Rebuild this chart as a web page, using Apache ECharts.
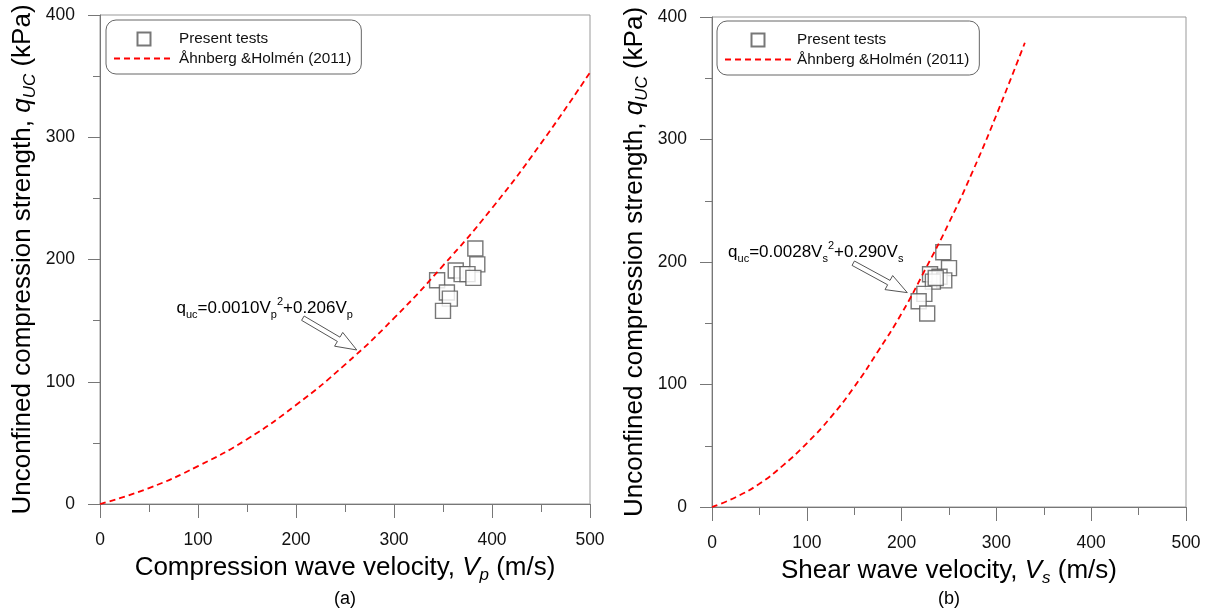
<!DOCTYPE html>
<html><head><meta charset="utf-8">
<script src="https://cdn.jsdelivr.net/npm/echarts@6/dist/echarts.min.js"></script>
<style>html,body{margin:0;padding:0;background:#fff}#c{width:1229px;height:613px}</style>
</head><body><div id="c"></div>
<script>
const FONT = '"Liberation Sans", Arial, sans-serif';
// ---- Panel (a): compression wave velocity ----
const vpTests  = [383, 385, 363, 369, 375, 381, 344, 354, 357, 350];
const quTestsA = [209, 196, 191, 188, 188, 185, 183, 173, 168, 158];
const vpLine   = [0, 50, 100, 150, 200, 250, 300, 350, 400, 450, 500];
const quLineA  = [0, 13, 31, 53, 81, 114, 152, 195, 242, 295, 353];
// ---- Panel (b): shear wave velocity ----
const vsTests  = [244, 250, 230, 240, 245, 233, 236, 224, 218, 227];
const quTestsB = [208, 195, 190, 188, 185, 184, 187, 174, 168, 158];
const vsLine   = [0, 25, 50, 75, 100, 125, 150, 175, 200, 225, 250, 275, 300, 330];
const quLineB  = [0, 8, 19, 34, 52, 73, 98, 127, 158, 194, 232, 274, 320, 379];
// ---- annotations (data coordinates) ----
const arrowA = [207, 152, 262, 126];   // tail V, tail q, tip V, tip q
const arrowB = [149, 199, 206, 175];
const labelA = [78, 160];
const labelB = [17, 208];
const seriesNames = ['Present tests', 'Åhnberg &Holmén (2011)'];

const zip = (a, b) => a.map((v, i) => [v, b[i]]);
const GREY = '#777';

function axisRich() {
  return {
    t: { fontSize: 26, fontFamily: FONT, color: '#000', lineHeight: 33 },
    i: { fontSize: 26, fontFamily: FONT, fontStyle: 'italic', color: '#000', lineHeight: 33 },
    s: { fontSize: 17, fontFamily: FONT, fontStyle: 'italic', color: '#000', lineHeight: 33, verticalAlign: 'bottom' }
  };
}
function xAxis(gi, name) {
  return {
    type: 'value', gridIndex: gi, min: 0, max: 500, interval: 100,
    name: name, nameLocation: 'middle', nameGap: 47,
    nameTextStyle: { rich: axisRich() },
    axisLine: { show: true, onZero: false, lineStyle: { color: GREY, width: 1 } },
    axisTick: { show: true, inside: false, length: 14, lineStyle: { color: GREY } },
    minorTick: { show: true, splitNumber: 2, length: 8, lineStyle: { color: GREY } },
    axisLabel: { margin: 27, fontSize: 17.5, color: '#111', fontFamily: FONT },
    splitLine: { show: false }, minorSplitLine: { show: false }
  };
}
function yAxis(gi, name) {
  return {
    type: 'value', gridIndex: gi, min: 0, max: 400, interval: 100,
    name: name, nameLocation: 'middle', nameGap: 61, nameRotate: 90,
    nameTextStyle: { rich: axisRich() },
    axisLine: { show: true, onZero: false, lineStyle: { color: GREY, width: 1 } },
    axisTick: { show: true, inside: false, length: 12, lineStyle: { color: GREY } },
    minorTick: { show: true, splitNumber: 2, length: 7, lineStyle: { color: GREY } },
    axisLabel: { margin: 25, fontSize: 17.5, color: '#111', fontFamily: FONT },
    splitLine: { show: false }, minorSplitLine: { show: false }
  };
}
const annRich = {
  n: { fontSize: 17, fontFamily: FONT, color: '#000', lineHeight: 24 },
  sb: { fontSize: 11, fontFamily: FONT, color: '#000', lineHeight: 24, verticalAlign: 'bottom' },
  sp: { fontSize: 11, fontFamily: FONT, color: '#000', lineHeight: 24, verticalAlign: 'top' }
};
function arrowItem(params, api) {
  const p0 = api.coord([api.value(0), api.value(1)]);
  const p1 = api.coord([api.value(2), api.value(3)]);
  const dx = p1[0] - p0[0], dy = p1[1] - p0[1];
  const L = Math.hypot(dx, dy);
  const ux = dx / L, uy = dy / L, nx = -uy, ny = ux;
  const hl = 21, hw = 8, sw = 2.5;
  const bx = p1[0] - ux * hl, by = p1[1] - uy * hl;
  const pts = [
    [p0[0] + nx * sw, p0[1] + ny * sw],
    [bx + nx * sw, by + ny * sw],
    [bx + nx * hw, by + ny * hw],
    [p1[0], p1[1]],
    [bx - nx * hw, by - ny * hw],
    [bx - nx * sw, by - ny * sw],
    [p0[0] - nx * sw, p0[1] - ny * sw]
  ];
  return { type: 'polygon', shape: { points: pts }, style: { fill: '#fff', stroke: '#555', lineWidth: 1 } };
}
function labelItem(text) {
  return function (params, api) {
    const p = api.coord([api.value(0), api.value(1)]);
    return { type: 'text', x: p[0], y: p[1],
      style: { text: text, rich: annRich, align: 'left', verticalAlign: 'middle', fill: '#000', fontSize: 17, fontFamily: FONT } };
  };
}
// square icon centred inside a wide legend item (path bounds = item box)
function squareIcon(w, h, cx) {
  const s = 13, x0 = cx - s / 2, y0 = (h - s) / 2;
  return 'path://M0,0M' + w + ',' + h + 'M' + x0 + ',' + y0 + 'L' + (x0 + s) + ',' + y0 +
    'L' + (x0 + s) + ',' + (y0 + s) + 'L' + x0 + ',' + (y0 + s) + 'Z';
}
function legend(left, top, iw, cx) {
  return {
    data: [
      { name: seriesNames[0], icon: squareIcon(iw, 16, cx) },
      { name: seriesNames[1], itemStyle: { color: 'rgba(0,0,0,0)', borderColor: 'rgba(0,0,0,0)', borderWidth: 0, opacity: 0 } }
    ],
    orient: 'vertical', left: left, top: top,
    itemWidth: iw, itemHeight: 16, itemGap: 3, itemTextGap: 6,
    padding: [10, 10, 8, 7], borderColor: '#666', borderWidth: 1, borderRadius: 10,
    textStyle: { fontSize: 15.3, fontFamily: FONT, color: '#111' },
    selectedMode: false
  };
}
function testSeries(gi, data) {
  return { name: seriesNames[0], type: 'scatter', xAxisIndex: gi, yAxisIndex: gi, data: data,
    symbol: 'rect', symbolSize: 15, z: 2,
    itemStyle: { color: '#fff', borderColor: '#555', borderWidth: 1.4 } };
}
function lineSeries(gi, data) {
  return { name: seriesNames[1], type: 'line', xAxisIndex: gi, yAxisIndex: gi, data: data,
    smooth: true, showSymbol: false, symbol: 'none', z: 3,
    lineStyle: { color: '#f00', width: 1.8, type: [6, 4] }, itemStyle: { color: '#f00' } };
}

const chart = echarts.init(document.getElementById('c'), null, { renderer: 'canvas' });
chart.setOption({
  animation: false,
  backgroundColor: '#fff',
  grid: [
    { left: 100, top: 15, width: 490, height: 489, show: true, borderColor: '#999', borderWidth: 1, backgroundColor: 'transparent' },
    { left: 712, top: 17, width: 474, height: 490, show: true, borderColor: '#999', borderWidth: 1, backgroundColor: 'transparent' }
  ],
  xAxis: [
    xAxis(0, '{t|Compression wave velocity, }{i|V}{s|p}{t| (m/s)}'),
    xAxis(1, '{t|Shear wave velocity, }{i|V}{s|s}{t| (m/s)}')
  ],
  yAxis: [
    yAxis(0, '{t|Unconfined compression strength, }{i|q}{s|UC}{t| (kPa)}'),
    yAxis(1, '{t|Unconfined compression strength, }{i|q}{s|UC}{t| (kPa)}')
  ],
  legend: [legend(106, 20, 60, 30), legend(717, 21, 67, 33)],
  graphic: [
    { type: 'text', x: 345, y: 599, style: { text: '(a)', fontSize: 18, fontFamily: FONT, fill: '#000', align: 'center', verticalAlign: 'middle' } },
    { type: 'text', x: 949, y: 599, style: { text: '(b)', fontSize: 18, fontFamily: FONT, fill: '#000', align: 'center', verticalAlign: 'middle' } }
  ],
  series: [
    testSeries(0, zip(vpTests, quTestsA)),
    lineSeries(0, zip(vpLine, quLineA)),
    testSeries(1, zip(vsTests, quTestsB)),
    lineSeries(1, zip(vsLine, quLineB)),
    { type: 'custom', xAxisIndex: 0, yAxisIndex: 0, renderItem: arrowItem, data: [arrowA], z: 4,
      encode: { x: [0, 2], y: [1, 3] } },
    { type: 'custom', xAxisIndex: 1, yAxisIndex: 1, renderItem: arrowItem, data: [arrowB], z: 4,
      encode: { x: [0, 2], y: [1, 3] } },
    { type: 'custom', xAxisIndex: 0, yAxisIndex: 0, z: 4, data: [labelA], encode: { x: 0, y: 1 },
      renderItem: labelItem('{n|q}{sb|uc}{n|=0.0010V}{sb|p}{sp|2}{n|+0.206V}{sb|p}') },
    { type: 'custom', xAxisIndex: 1, yAxisIndex: 1, z: 4, data: [labelB], encode: { x: 0, y: 1 },
      renderItem: labelItem('{n|q}{sb|uc}{n|=0.0028V}{sb|s}{sp|2}{n|+0.290V}{sb|s}') }
  ]
});
</script></body></html>
